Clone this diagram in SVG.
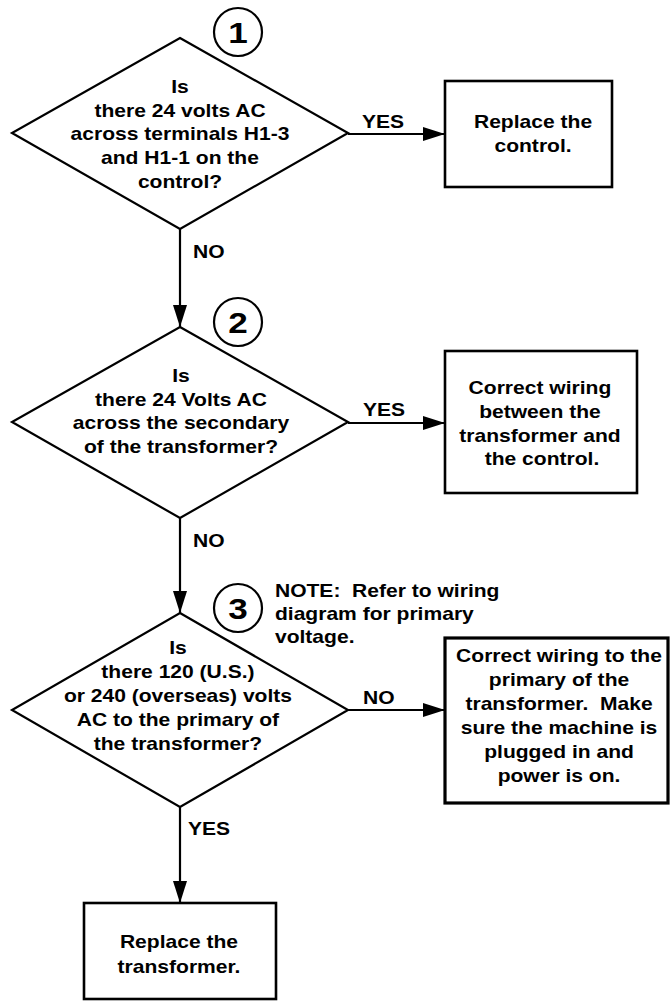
<svg xmlns="http://www.w3.org/2000/svg" width="672" height="1001" viewBox="0 0 672 1001">
<style>
.shape{fill:#fff;stroke:#000;stroke-width:2.2}
.box{fill:#fff;stroke:#000;stroke-width:2.6}
.conn{fill:none;stroke:#000;stroke-width:2.2}
text{font-family:"Liberation Sans",Arial,Helvetica,sans-serif;font-weight:bold;font-size:18px;fill:#000}
.c{text-anchor:middle}
.num{font-size:30px;text-anchor:middle}
.pre{white-space:pre}
</style>
<defs>
<marker id="ah" markerUnits="userSpaceOnUse" markerWidth="22" markerHeight="14" refX="22" refY="7" orient="auto">
<path d="M0,0 L22,7 L0,14 z" fill="#000"/>
</marker>
</defs>
<rect width="672" height="1001" fill="#fff"/>
<g id="connectors">
<path class="conn" d="M348,134 H445" marker-end="url(#ah)"/>
<path class="conn" d="M180,229 V327" marker-end="url(#ah)"/>
<path class="conn" d="M348,423 H445" marker-end="url(#ah)"/>
<path class="conn" d="M180,518 V613" marker-end="url(#ah)"/>
<path class="conn" d="M348,710 H445" marker-end="url(#ah)"/>
<path class="conn" d="M180,807 V903" marker-end="url(#ah)"/>
<text transform="scale(1.17 1)" x="309.4" y="128">YES</text>
<text transform="scale(1.17 1)" x="165" y="258">NO</text>
<text transform="scale(1.17 1)" x="310.3" y="416">YES</text>
<text transform="scale(1.17 1)" x="165" y="547">NO</text>
<text transform="scale(1.17 1)" x="310.3" y="704">NO</text>
<text transform="scale(1.17 1)" x="160.7" y="835">YES</text>
</g>
<g id="step1">
<circle class="shape" cx="238" cy="32" r="24"/>
<text class="num" transform="scale(1.17 1)" x="203.4" y="43">1</text>
</g>
<g id="decision1">
<polygon class="shape" points="180,38 348,133 180,229 12,133"/>
<text class="c" transform="scale(1.17 1)" x="153.85" y="93">Is</text>
<text class="c" transform="scale(1.17 1)" x="153.85" y="117">there 24 volts AC</text>
<text class="c" transform="scale(1.17 1)" x="153.85" y="140">across terminals H1-3</text>
<text class="c" transform="scale(1.17 1)" x="153.85" y="164">and H1-1 on the</text>
<text class="c" transform="scale(1.17 1)" x="153.85" y="188">control?</text>
</g>
<g id="action1">
<rect class="box" x="445" y="81" width="167" height="106"/>
<text class="c" transform="scale(1.17 1)" x="455.6" y="128">Replace the</text>
<text class="c" transform="scale(1.17 1)" x="455.6" y="152">control.</text>
</g>
<g id="step2">
<circle class="shape" cx="238" cy="322" r="24"/>
<text class="num" transform="scale(1.17 1)" x="203.4" y="333">2</text>
</g>
<g id="decision2">
<polygon class="shape" points="180,327 348,422 180,518 12,422"/>
<text class="c" transform="scale(1.17 1)" x="154.7" y="382">Is</text>
<text class="c" transform="scale(1.17 1)" x="154.7" y="406">there 24 Volts AC</text>
<text class="c" transform="scale(1.17 1)" x="154.7" y="429">across the secondary</text>
<text class="c" transform="scale(1.17 1)" x="154.7" y="453">of the transformer?</text>
</g>
<g id="action2">
<rect class="box" x="445" y="351" width="192" height="142"/>
<text class="c" transform="scale(1.17 1)" x="461.5" y="394">Correct wiring</text>
<text class="c" transform="scale(1.17 1)" x="461.5" y="418">between the</text>
<text class="c" transform="scale(1.17 1)" x="461.5" y="442">transformer and</text>
<text class="c" transform="scale(1.17 1)" x="463.2" y="465">the control.</text>
</g>
<g id="step3">
<circle class="shape" cx="238" cy="608" r="24"/>
<text class="num" transform="scale(1.17 1)" x="203.4" y="619">3</text>
<text class="pre" xml:space="preserve" transform="scale(1.17 1)" x="235" y="597">NOTE:  Refer to wiring</text>
<text transform="scale(1.17 1)" x="235" y="620">diagram for primary</text>
<text transform="scale(1.17 1)" x="235" y="643">voltage.</text>
</g>
<g id="decision3">
<polygon class="shape" points="180,613 348,710 180,807 12,710"/>
<text class="c" transform="scale(1.17 1)" x="152.1" y="654">Is</text>
<text class="c" transform="scale(1.17 1)" x="152.1" y="678">there 120 (U.S.)</text>
<text class="c" transform="scale(1.17 1)" x="152.1" y="702">or 240 (overseas) volts</text>
<text class="c" transform="scale(1.17 1)" x="152.1" y="726">AC to the primary of</text>
<text class="c" transform="scale(1.17 1)" x="152.1" y="750">the transformer?</text>
</g>
<g id="action3">
<rect class="box" x="445" y="638" width="223" height="165" style="stroke-width:3.2"/>
<text class="c" transform="scale(1.17 1)" x="477.8" y="662">Correct wiring to the</text>
<text class="c" transform="scale(1.17 1)" x="477.8" y="686">primary of the</text>
<text class="c pre" xml:space="preserve" transform="scale(1.17 1)" x="477.8" y="710">transformer.  Make</text>
<text class="c" transform="scale(1.17 1)" x="477.8" y="734">sure the machine is</text>
<text class="c" transform="scale(1.17 1)" x="477.8" y="758">plugged in and</text>
<text class="c" transform="scale(1.17 1)" x="477.8" y="782">power is on.</text>
</g>
<g id="action4">
<rect class="box" x="84" y="903" width="192" height="96"/>
<text class="c" transform="scale(1.17 1)" x="153.0" y="948">Replace the</text>
<text class="c" transform="scale(1.17 1)" x="153.0" y="973">transformer.</text>
</g>
</svg>
